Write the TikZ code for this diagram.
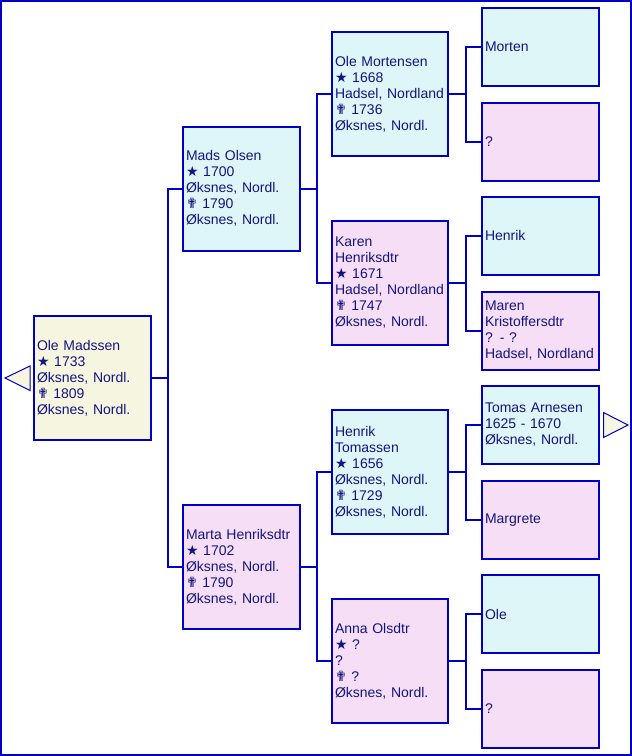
\documentclass[tikz,border=0pt]{standalone}
\usepackage{fontspec}
\setmainfont{Liberation Sans}
\newfontfamily\symf{DejaVu Sans}
\definecolor{bordercol}{RGB}{0,0,196}
\definecolor{textcol}{RGB}{20,20,128}
\definecolor{malefill}{RGB}{223,246,248}
\definecolor{femfill}{RGB}{246,223,246}
\definecolor{rootfill}{RGB}{246,246,224}
\newcommand{\bornsym}{{\symf\fontsize{14}{16}\selectfont ★}}
\newcommand{\diedsym}{{\symf\fontsize{14}{16}\selectfont ✟}}
\tikzset{
  person/.style={draw=bordercol, line width=2pt, text=textcol,
    font=\fontsize{14}{16}\selectfont, align=left, inner xsep=3pt, inner ysep=0pt,
    text width=110pt, minimum height=124pt, anchor=center},
  bigbox/.style={person, text width=111pt},
  midbox/.style={person, text width=110pt},
  smallbox/.style={person, text width=111pt, minimum height=78pt},
  male/.style={fill=malefill},
  female/.style={fill=femfill},
  root/.style={fill=rootfill},
  conn/.style={draw=bordercol, line width=2pt},
  navarrow/.style={draw=bordercol, line width=1pt, fill=rootfill},
}
\begin{document}
\begin{tikzpicture}[x=1pt, y=-1pt]
\useasboundingbox (0,0) rectangle (632,756);
\draw[draw=bordercol, line width=2pt] (1,1) rectangle (631,755);

% generation 1
\node[bigbox, root] (p1) at (92.5,378) {Ole Madssen\\\bornsym\ 1733\\Øksnes, Nordl.\\\diedsym\ 1809\\Øksnes, Nordl.};

% generation 2
\node[bigbox, male] (p2) at (241.5,188.5) {Mads Olsen\\\bornsym\ 1700\\Øksnes, Nordl.\\\diedsym\ 1790\\Øksnes, Nordl.};
\node[bigbox, female] (p3) at (241.5,567) {Marta Henriksdtr\\\bornsym\ 1702\\Øksnes, Nordl.\\\diedsym\ 1790\\Øksnes, Nordl.};

% generation 3
\node[midbox, male] (p4) at (390,94) {Ole Mortensen\\\bornsym\ 1668\\Hadsel, Nordland\\\diedsym\ 1736\\Øksnes, Nordl.};
\node[midbox, female] (p5) at (390,283) {Karen\\Henriksdtr\\\bornsym\ 1671\\Hadsel, Nordland\\\diedsym\ 1747\\Øksnes, Nordl.};
\node[midbox, male] (p6) at (390,472) {Henrik\\Tomassen\\\bornsym\ 1656\\Øksnes, Nordl.\\\diedsym\ 1729\\Øksnes, Nordl.};
\node[midbox, female] (p7) at (390,661) {Anna Olsdtr\\\bornsym\ ?\\?\\\diedsym\ ?\\Øksnes, Nordl.};

% generation 4
\node[smallbox, male] (p8) at (540.5,47) {Morten};
\node[smallbox, female] (p9) at (540.5,142) {?};
\node[smallbox, male] (p10) at (540.5,235.5) {Henrik};
\node[smallbox, female] (p11) at (540.5,331) {Maren\\Kristoffersdtr\\? - ?\\Hadsel, Nordland};
\node[smallbox, male] (p12) at (540.5,425) {Tomas Arnesen\\1625 - 1670\\Øksnes, Nordl.};
\node[smallbox, female] (p13) at (540.5,520) {Margrete};
\node[smallbox, male] (p14) at (540.5,614) {Ole};
\node[smallbox, female] (p15) at (540.5,709) {?};

% connectors
\draw[conn] (p1.east) -- ++(16,0) |- (p2.west);
\draw[conn] (p1.east) -- ++(16,0) |- (p3.west);
\draw[conn] (p2.east) -- ++(16,0) |- (p4.west);
\draw[conn] (p2.east) -- ++(16,0) |- (p5.west);
\draw[conn] (p3.east) -- ++(16,0) |- (p6.west);
\draw[conn] (p3.east) -- ++(16,0) |- (p7.west);
\draw[conn] (p4.east) -- ++(17,0) |- (p8.west);
\draw[conn] (p4.east) -- ++(17,0) |- (p9.west);
\draw[conn] (p5.east) -- ++(17,0) |- (p10.west);
\draw[conn] (p5.east) -- ++(17,0) |- (p11.west);
\draw[conn] (p6.east) -- ++(17,0) |- (p12.west);
\draw[conn] (p6.east) -- ++(17,0) |- (p13.west);
\draw[conn] (p7.east) -- ++(17,0) |- (p14.west);
\draw[conn] (p7.east) -- ++(17,0) |- (p15.west);

% navigation arrows
\draw[navarrow] (5,378) -- (30,366) -- (30,390.5) -- cycle;
\draw[navarrow] (628,425) -- (603.5,412.5) -- (603.5,437.5) -- cycle;
\end{tikzpicture}
\end{document}
